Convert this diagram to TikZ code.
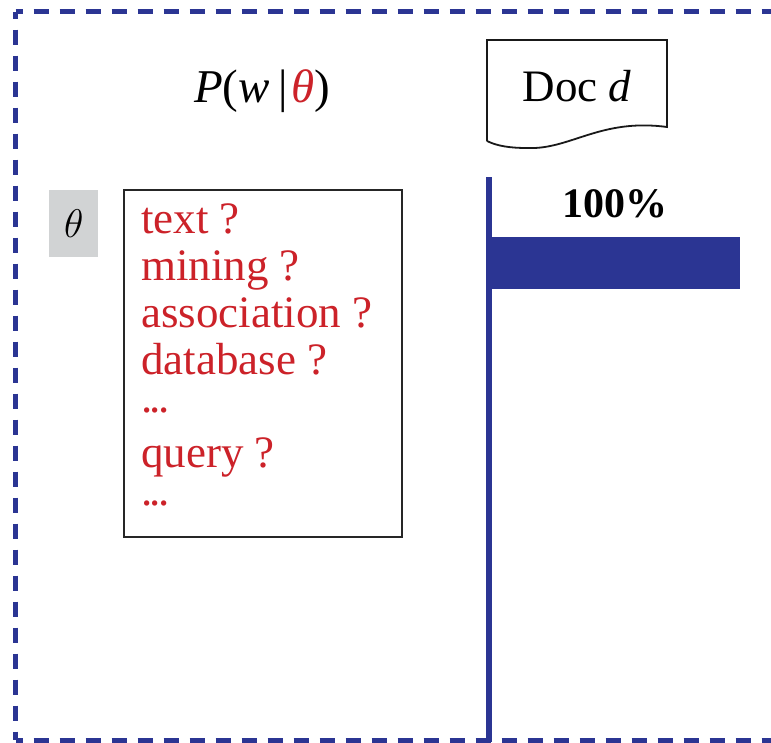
\documentclass[tikz,border=0pt]{standalone}
\usepackage{fix-cm}
\usepackage[no-math]{fontspec}
\setmainfont{Liberation Serif}
\usepackage{xcolor}
\definecolor{frameblue}{RGB}{43,53,147}
\definecolor{wordred}{RGB}{204,34,41}
\definecolor{boxgray}{RGB}{209,211,212}
\tikzset{
  framedash/.style={draw=frameblue, line width=5pt, dash pattern=on 15.5pt off 10.5pt, dash phase=8pt},
  word/.style={anchor=base west, inner sep=0pt, text=wordred, font=\fontsize{45}{52}\selectfont},
  plain/.style={inner sep=0pt, anchor=base}
}
\newcommand{\tightdots}{.\kern-2.5pt.\kern-2.5pt.}
\begin{document}
\begin{tikzpicture}[x=1pt, y=-1pt]
  \clip (0,0) rectangle (771,742);
  \fill[white] (0,0) rectangle (771,742);

  % dashed frame
  \coordinate (ftl) at (15.5,11.5);
  \coordinate (fbl) at (15.5,740);
  \coordinate (ftr) at (800,11.5);
  \coordinate (fbr) at (800,740);
  \draw[framedash] (ftl) -- (fbl);
  \draw[framedash] (ftl) -- (ftr);
  \draw[framedash] (fbl) -- (fbr);

  % header formula
  \node[plain] (pw) at (262,102) {\fontsize{47}{54}\selectfont\itshape P\/\upshape(\itshape w\/\kern9pt\upshape|\kern3pt\textcolor{wordred}{\itshape θ\/}\upshape)};

  % topic label
  \node[fill=boxgray, minimum width=49pt, minimum height=67pt, inner sep=0pt, anchor=north west] (th) at (49,190) {\fontsize{40}{46}\selectfont $\theta$};

  % word distribution box
  \draw[black!85, line width=1.8pt] (124,190) rectangle (402,537);
  \node[word] (w1) at (141,233) {text ?};
  \node[word] (w2) at (141,280) {mining ?};
  \node[word] (w3) at (141,327) {association ?};
  \node[word] (w4) at (141,374) {database ?};
  \node[word] (w5) at (141,412) {\tightdots};
  \node[word] (w6) at (141,467) {query ?};
  \node[word] (w7) at (141,505) {\tightdots};

  % document shape
  \draw[black!90, line width=1.8pt, line join=miter]
    (487,141) -- (487,40) -- (667,40) -- (667,127)
    .. controls (600,118) and (570,150) .. (527,148)
    .. controls (510,148) and (497,146) .. (487,141);
  \node[plain] (doc) at (577,101) {\fontsize{45}{52}\selectfont Doc \itshape d};

  % coverage bar
  \coordinate (axtop) at (489,177);
  \coordinate (axbot) at (489,742);
  \draw[frameblue, line width=5.5pt] (axtop) -- (axbot);
  \fill[frameblue] (489,237) rectangle (740,289);
  \node[plain] (pct) at (615,217) {\fontsize{42}{48}\selectfont\bfseries 100\%};
\end{tikzpicture}
\end{document}
